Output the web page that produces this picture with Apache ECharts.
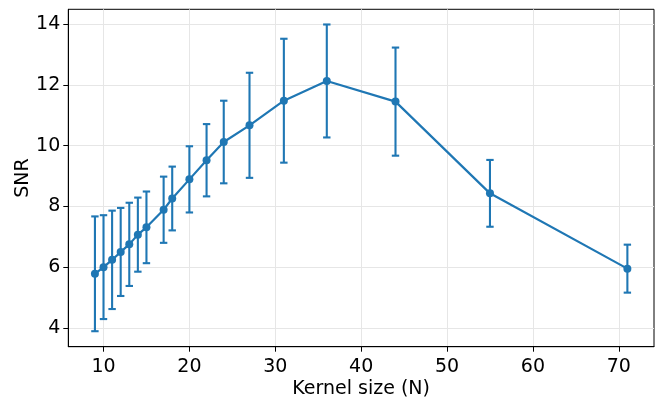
<!DOCTYPE html>
<html>
<head>
<meta charset="utf-8">
<script src="https://cdn.jsdelivr.net/npm/echarts@6/dist/echarts.min.js"></script>
<style>
html,body{margin:0;padding:0;background:#fff;}
#chart{width:665px;height:398px;}
</style>
</head>
<body>
<div id="chart"></div>
<script>
const kernelSizes = [9, 10, 11, 12, 13, 14, 15, 17, 18, 20, 22, 24, 27, 31, 36, 44, 55, 71];
const snrMean = [5.78, 6.00, 6.24, 6.50, 6.75, 7.07, 7.31, 7.89, 8.26, 8.89, 9.52, 10.12, 10.67, 11.48, 12.13, 11.45, 8.43, 5.95];
const snrErr = [1.89, 1.71, 1.62, 1.45, 1.37, 1.22, 1.18, 1.09, 1.05, 1.09, 1.19, 1.36, 1.73, 2.04, 1.86, 1.78, 1.10, 0.79];
const xTicks = [10, 20, 30, 40, 50, 60, 70];
const yTicks = [4, 6, 8, 10, 12, 14];

const color = '#1f77b4';
const font = 'DejaVu Sans';
const fs = 19;

const lineData = kernelSizes.map((k, i) => [k, snrMean[i]]);
const errData = kernelSizes.map((k, i) => [k, snrMean[i] - snrErr[i], snrMean[i] + snrErr[i]]);

const chart = echarts.init(document.getElementById('chart'), null, {renderer: 'canvas'});
chart.setOption({
  animation: false,
  backgroundColor: '#fff',
  grid: {left: 68.3, right: 11, top: 9.3, bottom: 51.3, show: true, borderColor: '#000', borderWidth: 1,
         containLabel: false, outerBoundsMode: 'none'},
  xAxis: {
    type: 'value', min: 5.9, max: 74.1,
    name: 'Kernel size (N)', nameLocation: 'middle', nameGap: 33, nameMoveOverlap: false,
    nameTextStyle: {fontFamily: font, fontSize: fs, color: '#000'},
    axisLine: {show: true, lineStyle: {color: '#000', width: 1}},
    axisTick: {show: true, length: 5, lineStyle: {color: '#000', width: 1}, customValues: xTicks},
    axisLabel: {fontFamily: font, fontSize: fs, color: '#000', margin: 11, customValues: xTicks},
    splitLine: {show: true, lineStyle: {color: '#e6e6e6', width: 1}}
  },
  yAxis: {
    type: 'value', min: 3.38, max: 14.49,
    name: 'SNR', nameLocation: 'middle', nameGap: 36, nameMoveOverlap: false,
    nameTextStyle: {fontFamily: font, fontSize: fs, color: '#000'},
    axisLine: {show: true, lineStyle: {color: '#000', width: 1}},
    axisTick: {show: true, length: 5, lineStyle: {color: '#000', width: 1}, customValues: yTicks},
    axisLabel: {fontFamily: font, fontSize: fs, color: '#000', margin: 8, customValues: yTicks},
    splitLine: {show: true, lineStyle: {color: '#e6e6e6', width: 1}}
  },
  series: [
    {
      type: 'custom',
      data: errData,
      z: 2,
      renderItem: function (params, api) {
        const x = api.value(0);
        const lo = api.coord([x, api.value(1)]);
        const hi = api.coord([x, api.value(2)]);
        const cw = 3.7;
        const st = {stroke: color, lineWidth: 2.1};
        return {
          type: 'group',
          children: [
            {type: 'line', shape: {x1: lo[0], y1: lo[1], x2: hi[0], y2: hi[1]}, style: st},
            {type: 'line', shape: {x1: lo[0] - cw, y1: lo[1], x2: lo[0] + cw, y2: lo[1]}, style: st},
            {type: 'line', shape: {x1: hi[0] - cw, y1: hi[1], x2: hi[0] + cw, y2: hi[1]}, style: st}
          ]
        };
      }
    },
    {
      type: 'line',
      data: lineData,
      z: 3,
      symbol: 'circle',
      symbolSize: 8,
      showSymbol: true,
      lineStyle: {color: color, width: 2.2},
      itemStyle: {color: color, borderWidth: 0}
    }
  ]
});
</script>
</body>
</html>
